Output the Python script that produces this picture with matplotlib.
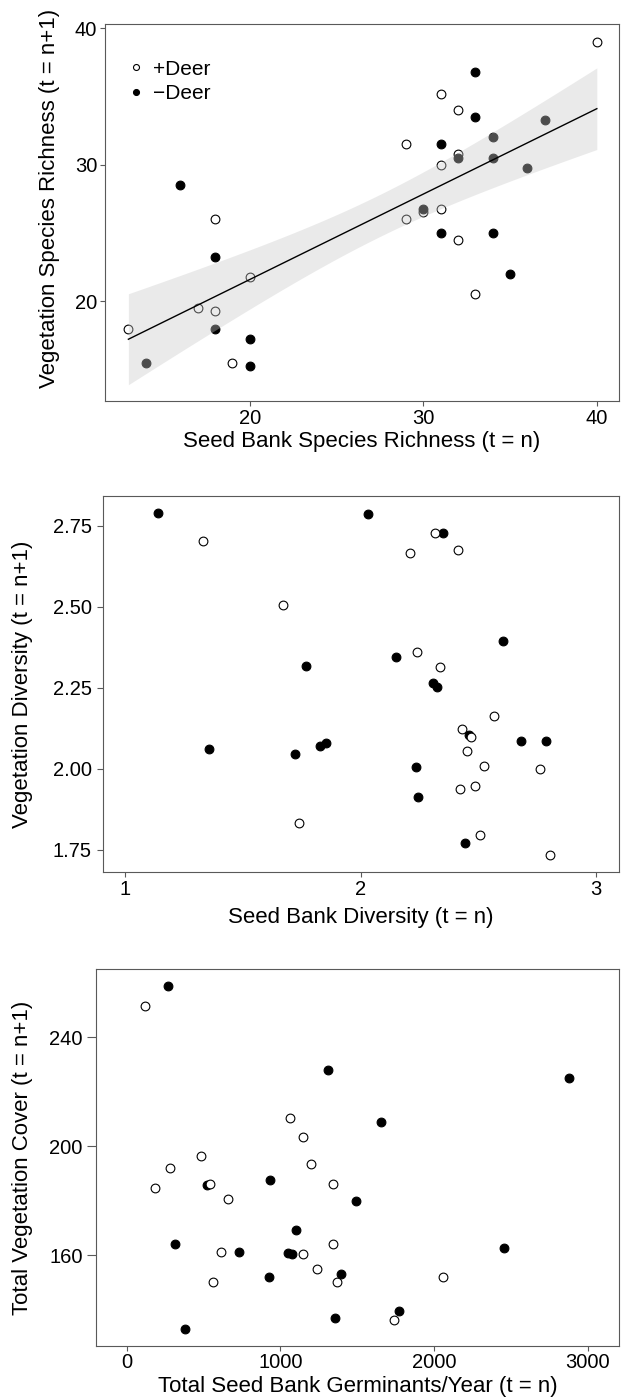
import matplotlib
matplotlib.use("Agg")
import matplotlib.pyplot as plt
import numpy as np

plt.rcParams['font.family'] = ['Liberation Sans', 'DejaVu Sans']

# Panel 1: species richness (+Deer open, -Deer filled)
rich_seed_plus = [13, 40, 31, 32, 29, 32, 31, 18, 29, 30, 31, 32, 20, 33, 17, 18, 19]
rich_veg_plus = [18, 39, 35.2, 34, 31.5, 30.75, 30, 26, 26, 26.5, 26.75, 24.5, 21.75, 20.5, 19.5, 19.25, 15.5]
rich_seed_minus = [33, 33, 31, 16, 18, 31, 34, 35, 20, 20, 18, 14, 30, 32, 34, 34, 36, 37]
rich_veg_minus = [36.75, 33.5, 31.5, 28.5, 23.25, 25, 25, 22, 17.25, 15.25, 18, 15.5, 26.75, 30.5, 32, 30.5, 29.75, 33.25]

# Panel 2: diversity
div_seed_plus = [1.331, 2.317, 2.209, 2.411, 1.670, 2.239, 2.335, 2.566, 2.428, 2.469, 2.450, 2.523,
                 2.761, 2.484, 2.420, 1.738, 2.508, 2.805]
div_veg_plus = [2.702, 2.728, 2.667, 2.675, 2.507, 2.361, 2.315, 2.164, 2.124, 2.099, 2.055, 2.008,
                2.000, 1.947, 1.938, 1.833, 1.797, 1.733]
div_seed_minus = [1.141, 2.030, 2.351, 2.604, 2.148, 1.768, 2.307, 2.324, 1.358, 1.721, 1.827, 1.854,
                  2.461, 2.680, 2.786, 2.236, 2.245, 2.444]
div_veg_minus = [2.790, 2.786, 2.728, 2.394, 2.346, 2.317, 2.264, 2.253, 2.060, 2.045, 2.071, 2.079,
                 2.104, 2.085, 2.087, 2.005, 1.914, 1.771]

# Panel 3: total cover vs germinants
germ_plus = [121, 1065, 1149, 481, 279, 1199, 182, 539, 1344, 656, 1340, 615, 1147, 1240, 561, 1366, 2056, 1738]
cover_plus = [251.5, 210.4, 203.3, 196.2, 191.9, 193.6, 184.5, 186.1, 186.1, 180.6, 163.9, 161.2, 160.3,
              155.0, 150.2, 150.0, 152.1, 136.2]
germ_minus = [268, 1307, 2879, 1651, 931, 1489, 1100, 314, 2452, 729, 1050, 1078, 926, 1392, 1771, 1355, 377, 524]
cover_minus = [258.8, 228.0, 225.0, 208.8, 187.5, 180.0, 169.3, 164.0, 162.6, 161.0, 160.7, 160.5, 151.9,
               153.2, 139.4, 136.8, 132.8, 185.9]

TICK_FS = 14.5
LAB_FS = 16
LEG_FS = 15
MS = 6.3
spine_col = '0.35'

fig = plt.figure(figsize=(6.4, 14), dpi=100)
ax1 = fig.add_axes([0.164, 0.7136, 0.803, 0.2693])
ax2 = fig.add_axes([0.1605, 0.3769, 0.8065, 0.269])
ax3 = fig.add_axes([0.150, 0.0389, 0.817, 0.2687])


def style(ax, ylen=3.6, ypad=2):
    for s in ax.spines.values():
        s.set_color(spine_col)
        s.set_linewidth(0.8)
    ax.tick_params(direction='out', length=3.6, width=0.8, color=spine_col,
                   labelsize=TICK_FS, labelcolor='black', pad=2)
    ax.tick_params(axis='y', length=ylen, pad=ypad)


def pts(ax, x, y, filled, z):
    ax.plot(x, y, 'o', ms=MS, mfc='black' if filled else 'white', mec='black',
            mew=0.8, ls='none', zorder=z)


# ---- panel 1 ----
pts(ax1, rich_seed_plus, rich_veg_plus, False, 2)
pts(ax1, rich_seed_minus, rich_veg_minus, True, 3)

# linear fit with 95% confidence band, from all points
x_all = np.array(rich_seed_plus + rich_seed_minus, dtype=float)
y_all = np.array(rich_veg_plus + rich_veg_minus, dtype=float)
b1, b0 = np.polyfit(x_all, y_all, 1)
n = len(x_all)
resid = y_all - (b0 + b1 * x_all)
s = np.sqrt(np.sum(resid ** 2) / (n - 2))
xx = np.linspace(x_all.min(), x_all.max(), 100)
yy = b0 + b1 * xx
se = s * np.sqrt(1 / n + (xx - x_all.mean()) ** 2 / np.sum((x_all - x_all.mean()) ** 2))
tcrit = 2.03
ax1.fill_between(xx, yy - tcrit * se, yy + tcrit * se, color='0.79', alpha=0.38, lw=0, zorder=4)
ax1.plot(xx, yy, color='black', lw=1.0, zorder=5)

ax1.set_xlim(11.65, 41.27)
ax1.set_ylim(12.7, 40.3)
ax1.set_xticks([20, 30, 40])
ax1.set_yticks([20, 30, 40])
ax1.set_xlabel('Seed Bank Species Richness (t = n)', fontsize=LAB_FS, labelpad=2)
ax1.set_ylabel('Vegetation Species Richness (t = n+1)', fontsize=LAB_FS)
ax1.yaxis.set_label_coords(-0.0875, 0.536)
style(ax1)

h1, = ax1.plot([], [], 'o', ms=4.3, mfc='white', mec='black', mew=0.8, ls='none')
h2, = ax1.plot([], [], 'o', ms=4.3, mfc='black', mec='black', mew=0.8, ls='none')
ax1.legend([h1, h2], ['+Deer', '\u2212Deer'], loc='upper left', bbox_to_anchor=(0.044, 0.905),
           frameon=False, fontsize=LEG_FS, handlelength=0.8, handletextpad=0.42,
           labelspacing=0.25, borderaxespad=0, borderpad=0)

# ---- panel 2 ----
pts(ax2, div_seed_minus, div_veg_minus, True, 2)
pts(ax2, div_seed_plus, div_veg_plus, False, 3)
ax2.set_xlim(0.905, 3.096)
ax2.set_ylim(1.681, 2.8425)
ax2.set_xticks([1, 2, 3])
ax2.set_yticks([1.75, 2.00, 2.25, 2.50, 2.75])
ax2.set_yticklabels(['1.75', '2.00', '2.25', '2.50', '2.75'])
ax2.set_xlabel('Seed Bank Diversity (t = n)', fontsize=LAB_FS, labelpad=6)
ax2.set_ylabel('Vegetation Diversity (t = n+1)', fontsize=LAB_FS)
ax2.yaxis.set_label_coords(-0.135, 0.5)
style(ax2, ylen=4, ypad=4)

# ---- panel 3 ----
pts(ax3, germ_minus, cover_minus, True, 2)
pts(ax3, germ_plus, cover_plus, False, 3)
ax3.set_xlim(-200, 3201)
ax3.set_ylim(126.8, 264.9)
ax3.set_xticks([0, 1000, 2000, 3000])
ax3.set_yticks([160, 200, 240])
ax3.set_xlabel('Total Seed Bank Germinants/Year (t = n)', fontsize=LAB_FS, labelpad=3)
ax3.set_ylabel('Total Vegetation Cover (t = n+1)', fontsize=LAB_FS)
ax3.yaxis.set_label_coords(-0.120, 0.5)
style(ax3, ylen=6.5, ypad=3)

fig.savefig('out.png', dpi=100)
